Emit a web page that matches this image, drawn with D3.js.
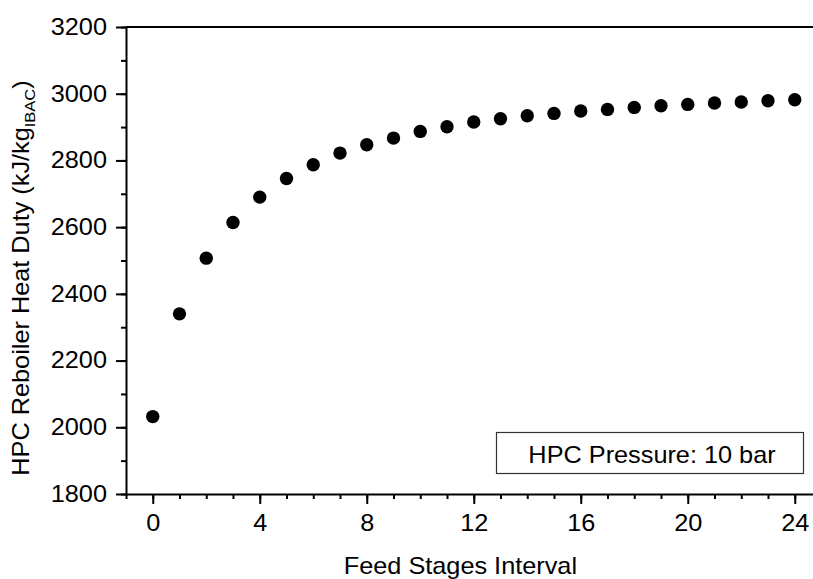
<!DOCTYPE html>
<html lang="en">
  <head>
    <meta charset="utf-8">
    <title>HPC Reboiler Heat Duty</title>
    <style>
      body { margin: 0; background: #fff; }
      svg { display: block; }
      text { font-family: "Liberation Sans", Arial, sans-serif; fill: #000; }
    </style>
  </head>
  <body>
    <script src="https://d3js.org/d3.v7.min.js"></script>
    <script>

    // feed stages interval (x) and reboiler duty in kJ/kg_IBAC (y)
    const stages = [0, 1, 2, 3, 4, 5, 6, 7, 8, 9, 10, 11, 12, 13, 14, 15, 16, 17, 18, 19, 20, 21, 22, 23, 24]
    const duty = [2032, 2340, 2507, 2614, 2690, 2746, 2787, 2822, 2847, 2867, 2887, 2901, 2915,
                  2925, 2934, 2941, 2948, 2953, 2959, 2964, 2968, 2972, 2975, 2979, 2982]

    const xTicks = [0, 4, 8, 12, 16, 20, 24]
    const yTicks = [1800, 2000, 2200, 2400, 2600, 2800, 3000, 3200]
    const legendText = "HPC Pressure: 10 bar"

    const w = 813
    const h = 579
    const fs = 23      // font size
    const sx = 1.1     // text is a bit wider than plain Arial

    const x = d3.scaleLinear().domain([-1, 25]).range([126, 821.5])
    const y = d3.scaleLinear().domain([1800, 3200]).range([494, 27])

    const svg = d3.select("body").append("svg")
      .attr("width", w)
      .attr("height", h)

    // minor ticks first, majors drawn over them
    const xMinor = d3.range(-1, 26)
    const yMinor = d3.range(1800, 3201, 100)

    svg.append("g")
      .attr("transform", `translate(0, ${y(1800)})`)
      .call(d3.axisBottom(x).tickValues(xMinor).tickSize(5).tickFormat(""))
      .call(g => g.select(".domain").remove())
      .selectAll("line").attr("stroke-width", 2)

    svg.append("g")
      .attr("transform", `translate(${x(-1)}, 0)`)
      .call(d3.axisLeft(y).tickValues(yMinor).tickSize(5).tickFormat(""))
      .call(g => g.select(".domain").remove())
      .selectAll("line").attr("stroke-width", 2)

    const xAxis = svg.append("g")
      .attr("transform", `translate(0, ${y(1800)})`)
      .call(d3.axisBottom(x).tickValues(xTicks).tickSize(10).tickPadding(11)
        .tickSizeOuter(0).tickFormat(d3.format("d")))

    xAxis.select(".domain").attr("stroke-width", 2)
    xAxis.selectAll("line").attr("stroke-width", 2)
    xAxis.selectAll("text")
      .style("font-size", fs + "px")
      .style("font-family", '"Liberation Sans", Arial, sans-serif')
      .attr("transform", `scale(${sx},1)`)

    const yAxis = svg.append("g")
      .attr("transform", `translate(${x(-1)}, 0)`)
      .call(d3.axisLeft(y).tickValues(yTicks).tickSize(10)
        .tickSizeOuter(0).tickFormat(d3.format("d")))

    yAxis.select(".domain").attr("stroke-width", 2)
    yAxis.selectAll("line").attr("stroke-width", 2)
    yAxis.selectAll("text")
      .style("font-size", fs + "px")
      .style("font-family", '"Liberation Sans", Arial, sans-serif')
      .attr("x", 0)
      .attr("transform", `translate(-19,0) scale(${sx},1)`)

    // top frame line
    svg.append("line")
      .attr("x1", x(-1)).attr("x2", w)
      .attr("y1", y(3200)).attr("y2", y(3200))
      .attr("stroke", "#000")
      .attr("stroke-width", 2)

    // points
    svg.append("g")
      .selectAll("circle")
      .data(stages)
      .join("circle")
      .attr("cx", d => x(d))
      .attr("cy", (d, i) => y(duty[i]))
      .attr("r", 6.7)
      .attr("fill", "#000")

    // legend box
    svg.append("rect")
      .attr("x", 496.5).attr("y", 432.5)
      .attr("width", 307).attr("height", 41)
      .attr("fill", "#fff")
      .attr("stroke", "#333")
      .attr("stroke-width", 1.2)

    svg.append("text")
      .attr("transform", `translate(652, 463) scale(${sx},1)`)
      .attr("text-anchor", "middle")
      .style("font-size", fs + "px")
      .text(legendText)

    // axis titles
    svg.append("text")
      .attr("transform", `translate(${x(11.5)}, 574) scale(${sx},1)`)
      .attr("text-anchor", "middle")
      .style("font-size", fs + "px")
      .text("Feed Stages Interval")

    const yTitle = svg.append("text")
      .attr("transform", `translate(29, 278) rotate(-90) scale(${sx},1)`)
      .attr("text-anchor", "middle")
      .style("font-size", fs + "px")

    yTitle.append("tspan").text("HPC Reboiler Heat Duty (kJ/kg")
    yTitle.append("tspan").attr("dy", 6).style("font-size", "15px").text("IBAC")
    yTitle.append("tspan").attr("dy", -6).text(")")

    </script>
  </body>
</html>
